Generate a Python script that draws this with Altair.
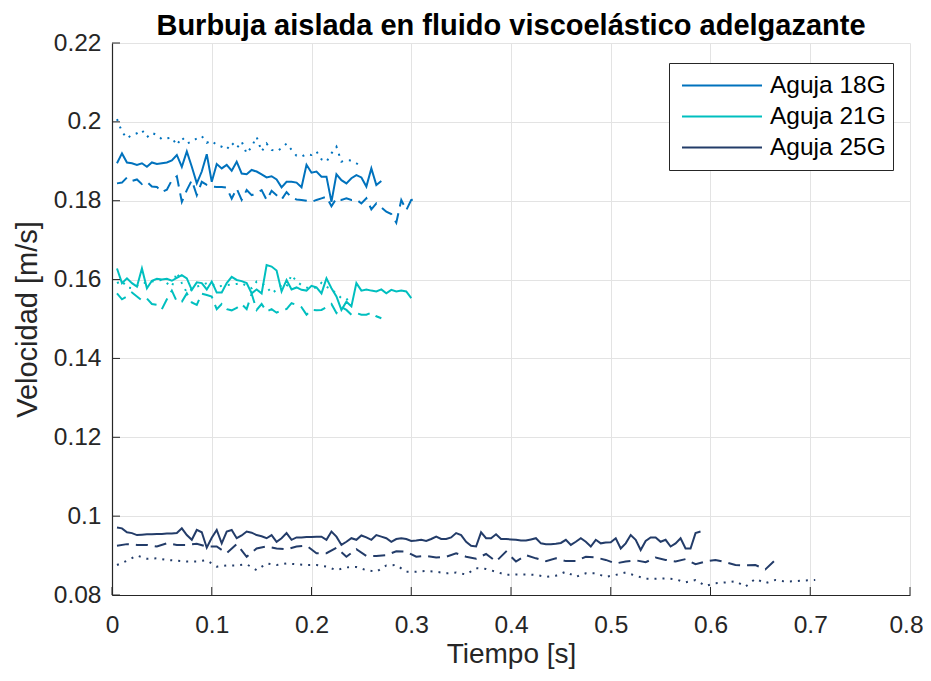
import altair as alt
import pandas as pd

agujas = ["Aguja 18G", "Aguja 21G", "Aguja 25G"]
colores = ["#0072BD", "#00BFBF", "#233C69"]
x_ticks = [0, 0.1, 0.2, 0.3, 0.4, 0.5, 0.6, 0.7, 0.8]
y_ticks = [0.08, 0.1, 0.12, 0.14, 0.16, 0.18, 0.2, 0.22]

# Aguja 18G  (t = 0.005, 0.010, ...)
v18_sol = [0.1895, 0.1920, 0.1897, 0.1895, 0.1891, 0.1895, 0.1886, 0.1897, 0.1893, 0.1895,
           0.1897, 0.1902, 0.1916, 0.1886, 0.1925, 0.1886, 0.1844, 0.1874, 0.1918, 0.1848,
           0.1893, 0.1882, 0.1891, 0.1876, 0.1899, 0.1869, 0.1867, 0.1878, 0.1874, 0.1867,
           0.1859, 0.1862, 0.1854, 0.1834, 0.1848, 0.1848, 0.1846, 0.1834, 0.1891, 0.1871,
           0.1874, 0.1861, 0.1861, 0.1797, 0.1867, 0.1852, 0.1844, 0.1857, 0.1865, 0.1859,
           0.1836, 0.1882, 0.1840, 0.1850]
v18_dash = [0.1844, 0.1846, 0.1859, 0.1850, 0.1854, 0.1842, 0.1848, 0.1836, 0.1835, 0.1822,
            0.1828, 0.1852, 0.1862, 0.1797, 0.1827, 0.1852, 0.1814, 0.1848, 0.1840, 0.1836,
            0.1835, 0.1835, 0.1833, 0.1805, 0.1831, 0.1802, 0.1827, 0.1814, 0.1819, 0.1827,
            0.1802, 0.1825, 0.1814, 0.1803, 0.1822, 0.1808, 0.1803, 0.1802, 0.1800, 0.1797,
            0.1802, 0.1806, 0.1810, 0.1786, 0.1806, 0.1802, 0.1806, 0.1802, 0.1803, 0.1793,
            0.1806, 0.1778, 0.1793, 0.1783, 0.1772, 0.1766, 0.1744, 0.1802, 0.1776, 0.1802,
            0.1804]
v18_dot = [0.2007, 0.1975, 0.1958, 0.1967, 0.1971, 0.1979, 0.1961, 0.1972, 0.1967, 0.1956,
           0.1958, 0.1960, 0.1941, 0.1961, 0.1945, 0.1950, 0.1958, 0.1964, 0.1947, 0.1952,
           0.1941, 0.1937, 0.1930, 0.1947, 0.1933, 0.1950, 0.1920, 0.1937, 0.1962, 0.1925,
           0.1945, 0.1929, 0.1925, 0.1933, 0.1945, 0.1929, 0.1914, 0.1912, 0.1918, 0.1916,
           0.1925, 0.1905, 0.1899, 0.1920, 0.1937, 0.1899, 0.1903, 0.1902, 0.1895, 0.1886]

# Aguja 21G  (t = 0.005, 0.010, ...)
v21_sol = [0.1628, 0.1591, 0.1603, 0.1591, 0.1582, 0.1628, 0.1578, 0.1597, 0.1602, 0.1600,
           0.1602, 0.1597, 0.1604, 0.1611, 0.1603, 0.1574, 0.1593, 0.1591, 0.1575, 0.1595,
           0.1567, 0.1567, 0.1591, 0.1607, 0.1599, 0.1596, 0.1591, 0.1565, 0.1575, 0.1565,
           0.1637, 0.1633, 0.1623, 0.1570, 0.1599, 0.1575, 0.1580, 0.1574, 0.1572, 0.1584,
           0.1580, 0.1565, 0.1603, 0.1578, 0.1557, 0.1523, 0.1544, 0.1532, 0.1591, 0.1572,
           0.1575, 0.1572, 0.1570, 0.1575, 0.1565, 0.1574, 0.1570, 0.1572, 0.1570, 0.1553]
v21_dash = [0.1565, 0.1550, 0.1557, 0.1567, 0.1557, 0.1547, 0.1552, 0.1538, 0.1536, 0.1525,
            0.1550, 0.1572, 0.1544, 0.1544, 0.1565, 0.1542, 0.1536, 0.1564, 0.1561, 0.1557,
            0.1525, 0.1538, 0.1525, 0.1522, 0.1528, 0.1538, 0.1525, 0.1564, 0.1523, 0.1538,
            0.1519, 0.1525, 0.1516, 0.1523, 0.1525, 0.1540, 0.1536, 0.1530, 0.1511, 0.1523,
            0.1522, 0.1523, 0.1530, 0.1538, 0.1515, 0.1530, 0.1523, 0.1511, 0.1515, 0.1511,
            0.1511, 0.1516, 0.1507, 0.1502]
v21_dot = [0.1591, 0.1597, 0.1580, 0.1578, 0.1584, 0.1591, 0.1592, 0.1595, 0.1597, 0.1599,
           0.1591, 0.1582, 0.1618, 0.1591, 0.1567, 0.1575, 0.1582, 0.1586, 0.1591, 0.1589,
           0.1582, 0.1584, 0.1586, 0.1587, 0.1589, 0.1591, 0.1584, 0.1578, 0.1595, 0.1591,
           0.1582, 0.1565, 0.1574, 0.1586, 0.1582, 0.1612, 0.1595, 0.1586, 0.1580, 0.1578,
           0.1580, 0.1592, 0.1582, 0.1575, 0.1564, 0.1553, 0.1548, 0.1561]

# Aguja 25G  (solid: t = 0.005, 0.010, ... ; dashed/dotted: t = 0.005, 0.015, ...)
v25_sol = [0.0971, 0.0969, 0.0959, 0.0957, 0.0952, 0.0953, 0.0954, 0.0954, 0.0955, 0.0955,
           0.0956, 0.0956, 0.0957, 0.0969, 0.0952, 0.0940, 0.0965, 0.0959, 0.0920, 0.0945,
           0.0965, 0.0931, 0.0961, 0.0965, 0.0944, 0.0951, 0.0961, 0.0958, 0.0952, 0.0949,
           0.0944, 0.0952, 0.0935, 0.0944, 0.0957, 0.0940, 0.0946, 0.0946, 0.0947, 0.0947,
           0.0948, 0.0948, 0.0940, 0.0961, 0.0948, 0.0927, 0.0935, 0.0944, 0.0940, 0.0951,
           0.0946, 0.0940, 0.0952, 0.0948, 0.0944, 0.0935, 0.0942, 0.0944, 0.0942, 0.0937,
           0.0938, 0.0940, 0.0937, 0.0942, 0.0948, 0.0942, 0.0942, 0.0946, 0.0957, 0.0952,
           0.0935, 0.0925, 0.0923, 0.0959, 0.0944, 0.0944, 0.0954, 0.0942, 0.0942, 0.0941,
           0.0940, 0.0938, 0.0938, 0.0941, 0.0944, 0.0931, 0.0929, 0.0929, 0.0930, 0.0932,
           0.0940, 0.0927, 0.0935, 0.0944, 0.0935, 0.0923, 0.0940, 0.0931, 0.0933, 0.0934,
           0.0944, 0.0918, 0.0931, 0.0952, 0.0940, 0.0914, 0.0937, 0.0946, 0.0946, 0.0935,
           0.0940, 0.0923, 0.0931, 0.0944, 0.0918, 0.0918, 0.0957, 0.0961]
v25_dash = [0.0925, 0.0929, 0.0927, 0.0927, 0.0923, 0.0931, 0.0927, 0.0927, 0.0930, 0.0923,
            0.0923, 0.0906, 0.0929, 0.0897, 0.0918, 0.0923, 0.0918, 0.0916, 0.0923, 0.0925,
            0.0906, 0.0906, 0.0920, 0.0897, 0.0916, 0.0899, 0.0899, 0.0901, 0.0911, 0.0910,
            0.0897, 0.0899, 0.0895, 0.0897, 0.0906, 0.0897, 0.0892, 0.0904, 0.0885, 0.0910,
            0.0885, 0.0901, 0.0893, 0.0886, 0.0893, 0.0886, 0.0886, 0.0897, 0.0895, 0.0889,
            0.0880, 0.0885, 0.0888, 0.0883, 0.0895, 0.0889, 0.0885, 0.0891, 0.0878, 0.0885,
            0.0889, 0.0883, 0.0876, 0.0875, 0.0876, 0.0865, 0.0889]
v25_dot = [0.0876, 0.0887, 0.0900, 0.0892, 0.0893, 0.0889, 0.0887, 0.0885, 0.0885, 0.0888,
           0.0872, 0.0875, 0.0875, 0.0878, 0.0863, 0.0880, 0.0876, 0.0880, 0.0878, 0.0876,
           0.0876, 0.0872, 0.0863, 0.0870, 0.0871, 0.0863, 0.0859, 0.0875, 0.0876, 0.0859,
           0.0859, 0.0861, 0.0859, 0.0855, 0.0857, 0.0852, 0.0868, 0.0866, 0.0859, 0.0851,
           0.0852, 0.0852, 0.0851, 0.0846, 0.0849, 0.0859, 0.0846, 0.0855, 0.0855, 0.0846,
           0.0851, 0.0857, 0.0849, 0.0841, 0.0841, 0.0842, 0.0840, 0.0832, 0.0838, 0.0823,
           0.0830, 0.0832, 0.0835, 0.0821, 0.0841, 0.0830, 0.0838, 0.0834, 0.0835, 0.0837,
           0.0838]


def tiempos(inicio, paso, n):
    return [round(inicio + paso * i, 4) for i in range(n)]


series = [
    ("Aguja 18G", "solida", 0.005, 0.005, v18_sol),
    ("Aguja 18G", "discontinua", 0.005, 0.005, v18_dash),
    ("Aguja 18G", "punteada", 0.005, 0.005, v18_dot),
    ("Aguja 21G", "solida", 0.005, 0.005, v21_sol),
    ("Aguja 21G", "discontinua", 0.005, 0.005, v21_dash),
    ("Aguja 21G", "punteada", 0.005, 0.005, v21_dot),
    ("Aguja 25G", "solida", 0.005, 0.005, v25_sol),
    ("Aguja 25G", "discontinua", 0.005, 0.01, v25_dash),
    ("Aguja 25G", "punteada", 0.005, 0.01, v25_dot),
]

rows = []
for ag, est, t0, dt, vals in series:
    for t, v in zip(tiempos(t0, dt, len(vals)), vals):
        rows.append({"t": t, "v": v, "aguja": ag, "estilo": est})
df = pd.DataFrame(rows)

W, H = 798, 552
AX = "#262626"
FONT = "Liberation Sans"

xs = alt.Scale(domain=[0, 0.8], nice=False, zero=False)
ys = alt.Scale(domain=[0.08, 0.22], nice=False, zero=False)

x_enc = alt.X("t:Q", scale=xs,
              axis=alt.Axis(values=x_ticks, format="~g", title="Tiempo [s]",
                            ticks=False, labelFlush=False, labelPadding=18,
                            titlePadding=4,
                            labelOffset={"condition": {"test": "datum.value >= 0.79",
                                                       "value": -4}, "value": 0}))
y_enc = alt.Y("v:Q", scale=ys,
              axis=alt.Axis(values=y_ticks, format="~g", title="Velocidad [m/s]",
                            ticks=False, labelFlush=False, labelPadding=11,
                            titlePadding=11, titleFontSize=29))
color_enc = alt.Color(
    "aguja:N",
    scale=alt.Scale(domain=agujas, range=colores),
    legend=alt.Legend(title=None, orient="none", legendX=557, legendY=20,
                      symbolType="stroke", symbolSize=6400, symbolStrokeWidth=2,
                      symbolDash=[1, 0], symbolOffset=5, clipHeight=31,
                      labelFontSize=24.5, labelFont=FONT, labelColor="black",
                      labelOffset=7, padding=7, rowPadding=0, strokeColor=AX,
                      fillColor="white", labelLimit=250),
)


def capa(estilo, **mk):
    return alt.Chart(df).transform_filter(alt.datum.estilo == estilo).mark_line(
        strokeWidth=2, **mk
    ).encode(x=x_enc, y=y_enc, color=color_enc)


solida = capa("solida")
discontinua = capa("discontinua", strokeDash=[12, 7])
punteada = capa("punteada", strokeDash=[2, 6])

ticks_y = alt.Chart(pd.DataFrame({"v": y_ticks})).mark_rule(color=AX, strokeWidth=1).encode(
    y=y_enc, x=alt.value(0), x2=alt.value(8))
ticks_x = alt.Chart(pd.DataFrame({"t": x_ticks})).mark_rule(color=AX, strokeWidth=1).encode(
    x=x_enc, y=alt.value(H), y2=alt.value(H - 8))

chart = alt.layer(solida, discontinua, punteada, ticks_y, ticks_x).properties(
    width=W, height=H,
    title=alt.TitleParams("Burbuja aislada en fluido viscoelástico adelgazante",
                          font=FONT, fontSize=29, fontWeight="bold", color="black",
                          anchor="middle", offset=-11),
    autosize=alt.AutoSizeParams(type="none"),
    padding={"left": 104, "top": 35, "right": 13, "bottom": 78},
).configure_view(stroke="transparent").configure_axis(
    gridColor="#E3E3E3", gridWidth=1, domainColor=AX, domainWidth=1.2,
    labelColor=AX, labelFont=FONT, labelFontSize=24.5,
    titleColor=AX, titleFont=FONT, titleFontSize=28, titleFontWeight="normal",
)

chart.save("out.html", embed_options={"renderer": "svg", "actions": False})
